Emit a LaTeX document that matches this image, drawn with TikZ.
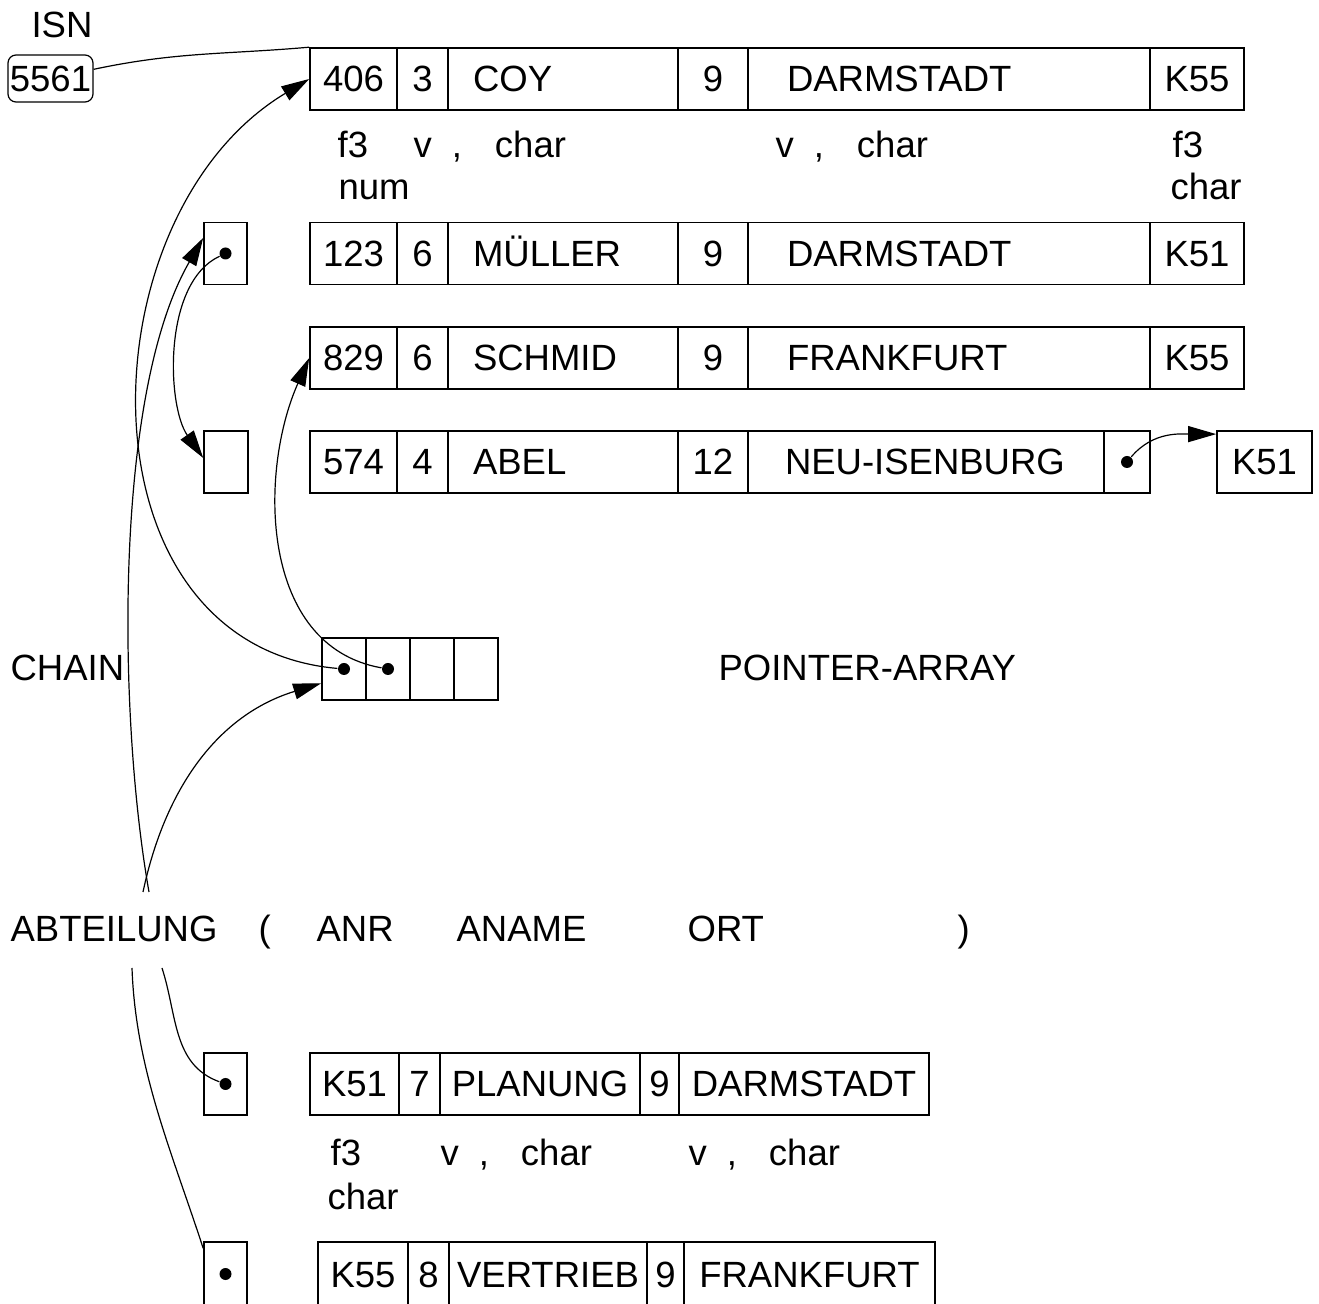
\documentclass[tikz,border=0pt]{standalone}
\usepackage{fontspec}
\setmainfont{Liberation Sans}
\usetikzlibrary{arrows.meta}

\begin{document}
\begin{tikzpicture}[x=0.5pt, y=-0.5pt, font=\fontsize{18.25}{22}\selectfont,
		>={Triangle[length=14pt, width=8pt]}, line width=0.6pt,
		cell/.style={draw, line width=0.8pt, inner sep=0pt, minimum height=31pt, text height=13pt, text depth=0pt},
		lcell/.style 2 args={cell, align=left, text width=#1, inner xsep=#2},
		pdot/.style={circle, fill, inner sep=0pt, minimum size=6pt},
		lbl/.style={inner sep=0pt, text height=13pt, text depth=0pt},
		typ/.style={anchor=base west, inner sep=0pt}]
		\useasboundingbox (0,0) rectangle (1319,1304);

		\node[lbl] (isnlbl) at (62,25) {ISN};
		\node[draw, rounded corners=4pt, inner sep=0pt, minimum width=42.5pt, minimum height=23.5pt, text height=13pt, text depth=0pt] (isn) at (50.5,78.5) {5561};

		% ANGEST records
		\node[cell, minimum width=43.5pt] (r1a) at (353.5,79) {406};
		\node[cell, minimum width=25.5pt] (r1b) at (422.5,79) {3};
		\node[lcell={90pt}{12.5pt}] (r1c) at (563,79) {COY};
		\node[cell, minimum width=35pt] (r1d) at (713,79) {9};
		\node[lcell={162pt}{19.5pt}] (r1e) at (949,79) {DARMSTADT};
		\node[cell, minimum width=47pt] (r1f) at (1197,79) {K55};

		\node[typ] (t1) at (337,158) {f3};
		\node[typ] (t2) at (338,200) {num};
		\node[typ] (t3) at (413,158) {v\hspace{10pt},\hspace{16.5pt}char};
		\node[typ] (t4) at (775,158) {v\hspace{10pt},\hspace{16.5pt}char};
		\node[typ] (t5) at (1172,158) {f3};
		\node[typ] (t6) at (1170,200) {char};

		\node[cell, minimum width=43.5pt] (r2a) at (353.5,253.5) {123};
		\node[cell, minimum width=25.5pt] (r2b) at (422.5,253.5) {6};
		\node[lcell={90pt}{12.5pt}] (r2c) at (563,253.5) {MÜLLER};
		\node[cell, minimum width=35pt] (r2d) at (713,253.5) {9};
		\node[lcell={162pt}{19.5pt}] (r2e) at (949,253.5) {DARMSTADT};
		\node[cell, minimum width=47pt] (r2f) at (1197,253.5) {K51};

		\node[cell, minimum width=43.5pt] (r3a) at (353.5,358) {829};
		\node[cell, minimum width=25.5pt] (r3b) at (422.5,358) {6};
		\node[lcell={90pt}{12.5pt}] (r3c) at (563,358) {SCHMID};
		\node[cell, minimum width=35pt] (r3d) at (713,358) {9};
		\node[lcell={162pt}{19.5pt}] (r3e) at (949,358) {FRANKFURT};
		\node[cell, minimum width=47pt] (r3f) at (1197,358) {K55};

		\node[cell, minimum width=43.5pt] (r4a) at (353.5,462) {574};
		\node[cell, minimum width=25.5pt] (r4b) at (422.5,462) {4};
		\node[lcell={90pt}{12.5pt}] (r4c) at (563,462) {ABEL};
		\node[cell, minimum width=35pt] (r4d) at (713,462) {12};
		\node[lcell={141pt}{18.5pt}] (r4e) at (926,462) {NEU-ISENBURG};
		\node[cell, minimum width=23pt] (r4f) at (1127,462) {};
		\node[cell, minimum width=47.5pt] (r4k) at (1264.5,462) {K51};
		\node[pdot] (r4dot) at (r4f) {};

		% chain boxes
		\node[cell, minimum width=21.5pt] (ch1) at (225.5,253.5) {};
		\node[cell, minimum width=22pt] (ch2) at (226,462) {};
		\node[pdot] (ch1dot) at (ch1) {};

		% pointer array
		\node[cell, minimum width=22pt] (pa1) at (344,669) {};
		\node[cell, minimum width=22pt] (pa2) at (388,669) {};
		\node[cell, minimum width=22pt] (pa3) at (432,669) {};
		\node[cell, minimum width=22pt] (pa4) at (476,669) {};
		\node[pdot] (pa1dot) at (pa1) {};
		\node[pdot] (pa2dot) at (pa2) {};

		\node[lbl, anchor=west] (chain) at (10,668) {CHAIN};
		\node[lbl, anchor=west] (palbl) at (718,668) {POINTER-ARRAY};

		% relation line
		\node[lbl, anchor=west] (abt) at (10,929) {ABTEILUNG};
		\node[lbl, anchor=west] (lpar) at (258,929) {(};
		\node[lbl, anchor=west] (anr) at (316,929) {ANR};
		\node[lbl, anchor=west] (aname) at (456,929) {ANAME};
		\node[lbl, anchor=west] (ort) at (687,929) {ORT};
		\node[lbl, anchor=west] (rpar) at (957,929) {)};
		\coordinate (abtn1) at (143,892);
		\coordinate (abtn2) at (149,892);
		\coordinate (abts1) at (132,968);
		\coordinate (abts2) at (162,968);

		% ABTEILUNG records
		\node[cell, minimum width=21.5pt] (b1) at (225.5,1084) {};
		\node[pdot] (b1dot) at (b1) {};
		\node[cell, minimum width=44.5pt] (a1a) at (354.5,1084) {K51};
		\node[cell, minimum width=20.5pt] (a1b) at (419.5,1084) {7};
		\node[cell, minimum width=100pt] (a1c) at (540,1084) {PLANUNG};
		\node[cell, minimum width=19.5pt] (a1d) at (659.5,1084) {9};
		\node[cell, minimum width=125pt] (a1e) at (804,1084) {DARMSTADT};

		\node[typ] (u1) at (330,1166) {f3};
		\node[typ] (u2) at (327,1210) {char};
		\node[typ] (u3) at (440,1166) {v\hspace{10pt},\hspace{16pt}char};
		\node[typ] (u4) at (688,1166) {v\hspace{10pt},\hspace{16pt}char};

		\node[cell, minimum width=21.5pt, minimum height=32pt] (b2) at (225.5,1274) {};
		\node[pdot] (b2dot) at (b2) {};
		\node[cell, minimum width=45pt, minimum height=32pt] (a2a) at (363,1274) {K55};
		\node[cell, minimum width=20.5pt, minimum height=32pt] (a2b) at (428.5,1274) {8};
		\node[cell, minimum width=99pt, minimum height=32pt] (a2c) at (548,1274) {VERTRIEB};
		\node[cell, minimum width=18.5pt, minimum height=32pt] (a2d) at (665.5,1274) {9};
		\node[cell, minimum width=125.5pt, minimum height=32pt] (a2e) at (809.5,1274) {FRANKFURT};

		\draw (isn) edge[out=12, in=185] (r1a.north west);
		\draw[->] (pa1dot) edge[out=175, in=211, looseness=1.15] (r1a.west);
		\draw[->] (pa2dot) edge[out=170, in=246] (r3a.west);
		\draw (abtn1) edge[->, out=78, in=197] (pa1.212);
		\draw (abtn2) edge[->, out=100, in=240, looseness=0.7] (ch1.145);
		\draw[->] (ch1dot) edge[out=205, in=125, looseness=0.8] (ch2.170);
		\draw[->] (r4dot) edge[out=50, in=180] (r4k.150);
		\draw (abts2) edge[out=-72, in=160] (b1dot);
		\draw (abts1) edge[out=-88, in=108, looseness=0.9] (b2.131);
	\end{tikzpicture}
\end{document}
